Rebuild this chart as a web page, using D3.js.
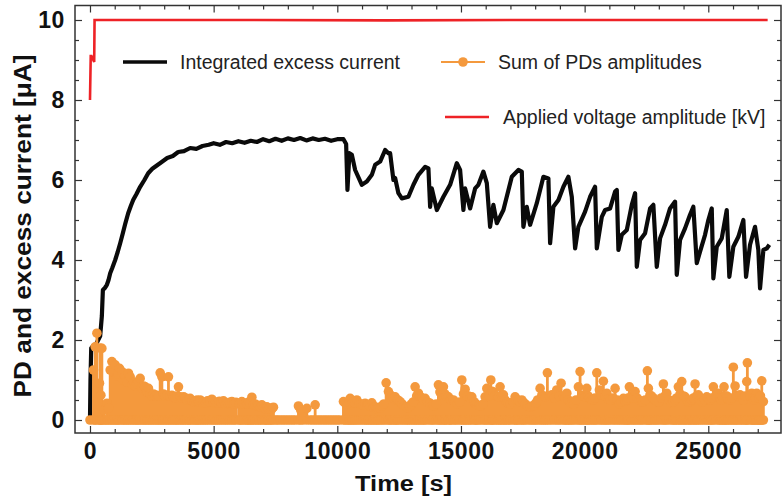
<!DOCTYPE html>
<html>
<head>
<meta charset="utf-8">
<script src="https://cdn.jsdelivr.net/npm/d3@7"></script>
<style>
  body { margin: 0; background: #fff; }
  svg { display: block; font-family: "Liberation Sans", Arial, sans-serif; }
</style>
</head>
<body>
<div id="chart"></div>
<script>
// integrated excess current [uA] vs time [s]
const currentSeries = [[0,0],[20,1.0],[50,1.8],[120,1.85],[250,1.9],[330,2.0],[412,2.1],[480,2.6],[521,3.25],[600,3.3],[683,3.38],[750,3.5],[817,3.67],[900,3.8],[1019,4.0],[1120,4.2],[1221,4.42],[1320,4.65],[1423,4.9],[1544,5.17],[1650,5.35],[1746,5.5],[1880,5.65],[2029,5.83],[2200,6.0],[2353,6.17],[2520,6.28],[2717,6.37],[2900,6.45],[3121,6.55],[3350,6.6],[3566,6.7],[3800,6.72],[4050,6.8],[4300,6.78],[4550,6.85],[4800,6.88],[5000,6.92],[5250,6.88],[5500,6.95],[5750,6.92],[6000,6.97],[6250,6.93],[6500,6.98],[6750,6.95],[7000,7.02],[7250,6.97],[7500,7.03],[7750,6.98],[8000,7.04],[8250,7.0],[8500,7.05],[8750,6.99],[9000,7.04],[9250,7.0],[9500,7.03],[9750,6.98],[10000,7.02],[10248,7.02],[10357,6.9],[10410,5.75],[10490,6.67],[10587,6.63],[10721,6.25],[10992,5.88],[11194,5.96],[11396,6.13],[11530,6.38],[11732,6.46],[11934,6.75],[12067,6.67],[12136,6.67],[12269,6.0],[12338,6.05],[12471,5.67],[12609,5.54],[12875,5.58],[13078,5.88],[13280,6.13],[13551,6.33],[13684,6.29],[13753,5.33],[13821,5.79],[14024,5.25],[14290,5.58],[14561,5.88],[14832,6.42],[14965,6.25],[15099,5.25],[15168,5.79],[15370,5.29],[15572,5.79],[15705,5.88],[15907,6.21],[16045,5.92],[16178,4.83],[16311,5.38],[16449,4.92],[16716,5.25],[17055,6.08],[17322,6.25],[17459,6.21],[17524,4.83],[17661,5.33],[17795,4.88],[18066,5.42],[18333,6.08],[18535,6.04],[18604,4.42],[18737,5.33],[18940,5.5],[19142,5.83],[19344,6.08],[19481,5.58],[19615,4.29],[19748,4.83],[20019,5.21],[20221,5.58],[20423,5.83],[20492,4.29],[20694,5.08],[20828,5.25],[21030,5.29],[21232,5.71],[21301,5.75],[21366,4.25],[21503,4.63],[21705,4.75],[21907,5.38],[22041,5.67],[22109,3.83],[22243,4.5],[22445,4.67],[22647,5.29],[22779,5.38],[22917,3.83],[23050,4.54],[23252,4.88],[23454,5.29],[23657,5.46],[23725,3.63],[23858,4.5],[24060,4.79],[24262,5.13],[24396,5.33],[24534,3.92],[24667,4.21],[24869,4.63],[25003,5.0],[25140,5.29],[25205,3.54],[25342,4.33],[25544,4.54],[25746,5.25],[25851,3.58],[26013,4.33],[26216,4.58],[26418,5.0],[26527,3.58],[26688,4.38],[26890,4.83],[27024,4.25],[27093,3.29],[27227,4.25],[27364,4.29],[27469,4.38]];

// applied voltage amplitude [kV]
const voltageSeries = [[0,8.0],[30,9.1],[60,9.1],[170,8.95],[185,10.0],[6000,10.0],[12000,9.99],[18000,10.0],[27400,10.0]];

// PD amplitude peaks (sum of PDs) [t, amplitude]
const pdPeaks = [[0,0],[141,1.25],[210,1.83],[279,2.17],[384,0.92],[412,1.8],[441,0.62],[481,1.79],[560,0.25],[620,0],[683,0.42],[750,0.3],
[817,1.25],[885,1.46],[950,1.2],[1019,1.38],[1080,1.1],[1140,1.15],[1193,1.29],[1290,1.21],[1350,1.0],[1420,1.1],[1490,0.95],[1556,1.17],[1625,1.08],[1700,0.9],[1770,0.95],[1840,0.85],[1900,0.9],[1961,0.96],[2029,1.04],[2100,0.8],[2170,0.85],[2231,0.83],[2300,0.7],[2365,0.79],[2430,0.65],[2500,0.6],[2570,0.65],[2640,0.6],[2710,0.62],[2780,0.6],[2838,1.18],[2907,1.08],[2970,0.65],[3040,0.6],[3110,0.62],[3173,1.08],[3240,0.6],[3310,0.62],[3380,0.58],[3450,0.55],[3510,0.6],[3578,0.83],[3650,0.58],[3720,0.55],[3790,0.58],[3860,0.55],[3930,0.5],[4000,0.52],[4051,0.54],[4130,0.48],[4200,0.45],[4270,0.48],[4330,0.5],[4390,0.46],[4455,0.5],[4530,0.44],[4600,0.45],[4680,0.42],[4750,0.48],[4840,0.45],[4928,0.52],[5000,0.44],[5080,0.45],[5150,0.42],[5230,0.47],[5310,0.44],[5397,0.48],[5480,0.4],[5560,0.42],[5650,0.44],[5736,0.46],[5820,0.4],[5900,0.44],[6020,0.4],[6080,0.42],[6140,0.46],[6220,0.4],[6300,0.42],[6360,0.4],[6420,0.45],[6480,0.42],[6545,0.57],[6610,0.38],[6680,0.4],[6750,0.35],[6820,0.36],[6890,0.32],[6949,0.38],[7050,0.3],[7100,0.28],[7151,0.33],[7220,0.28],[7280,0.3],[7350,0.27],[7418,0.32],
[7520,0],[7600,0],[7700,0],[7800,0],[7900,0],[8000,0],[8100,0],[8200,0],[8300,0],[8429,0.35],[8520,0.25],[8620,0.2],[8768,0.29],[8900,0],[9000,0],[9104,0.38],[9200,0],[9300,0],[9400,0],[9500,0],[9600,0],[9700,0],[9800,0],[9900,0],[10000,0],[10100,0],
[10248,0.46],[10320,0.42],[10400,0.4],[10460,0.45],[10519,0.54],[10590,0.42],[10650,0.45],[10720,0.42],[10789,0.5],[10870,0.42],[10950,0.4],[11040,0.38],[11125,0.42],[11190,0.36],[11260,0.38],[11330,0.35],[11396,0.43],[11460,0.32],[11530,0.33],[11590,0.28],[11650,0.3],[11720,0.3],[11800,0.35],[11880,0.4],[11974,0.93],[12067,0.71],[12130,0.62],[12200,0.6],[12270,0.55],[12338,0.58],[12400,0.5],[12450,0.5],[12540,0.46],[12620,0.4],[12700,0.35],[12780,0.32],[12850,0.3],[12920,0.35],[13000,0.4],[13070,0.45],[13146,0.83],[13210,0.6],[13280,0.67],[13350,0.58],[13420,0.55],[13490,0.5],[13550,0.54],[13650,0.45],[13753,0.42],[13830,0.38],[13900,0.35],[14000,0.4],[14088,0.88],[14150,0.7],[14220,0.62],[14290,0.83],[14350,0.65],[14400,0.6],[14493,0.58],[14550,0.52],[14600,0.5],[14695,0.5],[14770,0.44],[14850,0.4],[14950,0.45],[15034,1.0],[15100,0.65],[15168,0.77],[15230,0.6],[15300,0.6],[15370,0.55],[15438,0.58],[15540,0.45],[15590,0.4],[15640,0.38],[15720,0.36],[15800,0.35],[15900,0.4],[15976,0.58],[16045,0.79],[16120,0.6],[16206,1.0],[16250,0.72],[16300,0.7],[16380,0.62],[16450,0.6],[16520,0.58],[16582,0.83],[16650,0.6],[16716,0.63],[16780,0.5],[16850,0.45],[16920,0.42],[17000,0.4],[17100,0.45],[17189,0.58],[17240,0.5],[17300,0.5],[17380,0.46],[17459,0.5],[17530,0.44],[17600,0.4],[17700,0.35],[17795,0.33],[17870,0.35],[17950,0.35],[18020,0.42],[18100,0.5],[18199,0.79],[18270,0.62],[18350,0.6],[18420,0.58],[18494,1.18],[18580,0.6],[18672,0.63],[18780,0.55],[18874,0.75],[18960,0.6],[19048,0.92],[19150,0.6],[19210,0.55],[19279,0.67],[19340,0.5],[19400,0.45],[19480,0.42],[19550,0.4],[19650,0.5],[19748,0.83],[19816,1.21],[19880,0.62],[19950,0.6],[20020,0.58],[20087,0.79],[20140,0.6],[20200,0.55],[20280,0.5],[20350,0.5],[20420,0.55],[20492,1.18],[20597,0.75],[20680,0.62],[20758,0.97],[20830,0.6],[20896,0.67],[20970,0.52],[21050,0.5],[21150,0.55],[21232,0.79],[21320,0.5],[21400,0.4],[21480,0.45],[21567,0.54],[21630,0.48],[21700,0.5],[21760,0.55],[21810,0.83],[21900,0.6],[21970,0.55],[22041,0.71],[22120,0.55],[22200,0.5],[22280,0.46],[22350,0.45],[22450,0.5],[22537,1.23],[22577,0.79],[22640,0.62],[22700,0.6],[22780,0.55],[22850,0.5],[22920,0.46],[23000,0.45],[23100,0.55],[23184,0.9],[23250,0.6],[23321,0.67],[23420,0.5],[23523,0.42],[23590,0.45],[23650,0.5],[23720,0.55],[23790,0.83],[23860,0.65],[23927,0.96],[24000,0.6],[24060,0.58],[24130,0.5],[24200,0.45],[24260,0.46],[24330,0.5],[24400,0.55],[24465,0.9],[24530,0.6],[24598,0.63],[24680,0.5],[24760,0.45],[24850,0.5],[24938,0.58],[25010,0.52],[25080,0.5],[25140,0.55],[25205,0.83],[25300,0.6],[25407,0.67],[25460,0.55],[25520,0.5],[25580,0.55],[25638,0.83],[25690,0.6],[25747,0.6],[25810,0.52],[25880,0.5],[25950,0.55],[26013,1.32],[26083,0.85],[26140,0.62],[26200,0.6],[26285,0.63],[26350,0.52],[26420,0.5],[26490,0.6],[26555,0.96],[26580,1.43],[26680,0.6],[26758,0.67],[26800,0.55],[26850,0.5],[26910,0.55],[26959,0.67],[27010,0.55],[27060,0.55],[27110,0.6],[27162,0.98],[27227,0.46]];

const xTicks = [0, 5000, 10000, 15000, 20000, 25000];
const yTicks = [0, 2, 4, 6, 8, 10];
const legendLabels = ["Integrated excess current", "Sum of PDs amplitudes", "Applied voltage amplitude [kV]"];

const width = 783, height = 501;
const plot = {left: 75, right: 781, top: 5.5, bottom: 433};

const colors = {current: "#0a0a0a", pd: "#f4993d", voltage: "#ee2226", axis: "#333"};

const x = d3.scaleLinear().domain([-606, 27940]).range([plot.left, plot.right]);
const y = d3.scaleLinear().domain([-0.325, 10.3625]).range([plot.bottom, plot.top]);

const svg = d3.select("#chart")
              .append("svg")
              .attr("width", width)
              .attr("height", height);

// series
const line = d3.line()
               .x(d => x(d[0]))
               .y(d => y(d[1]));

svg.append("path")
   .datum(currentSeries)
   .attr("fill", "none")
   .attr("stroke", colors.current)
   .attr("stroke-width", 4.2)
   .attr("stroke-linejoin", "round")
   .attr("d", line);

// PD stems: each peak rises from and falls back to the zero level
const pdPath = [];
pdPeaks.forEach(d => {
    pdPath.push([d[0], 0]);
    pdPath.push(d);
    pdPath.push([d[0], 0]);
});

const pdGroup = svg.append("g");
pdGroup.append("path")
       .datum(pdPath)
       .attr("fill", "none")
       .attr("stroke", colors.pd)
       .attr("stroke-width", 2.8)
       .attr("d", line);

pdGroup.selectAll("circle.zero")
       .data(pdPeaks)
       .join("circle")
       .attr("class", "zero")
       .attr("cx", d => x(d[0]))
       .attr("cy", y(0))
       .attr("r", 4.8)
       .attr("fill", colors.pd);

pdGroup.selectAll("circle.peak")
       .data(pdPeaks.filter(d => d[1] > 0))
       .join("circle")
       .attr("class", "peak")
       .attr("cx", d => x(d[0]))
       .attr("cy", d => y(d[1]))
       .attr("r", 4.8)
       .attr("fill", colors.pd);

svg.append("path")
   .datum(voltageSeries)
   .attr("fill", "none")
   .attr("stroke", colors.voltage)
   .attr("stroke-width", 2.6)
   .attr("d", line);

// axes, ticks pointing inward on all four sides
const minorX = d3.range(0, 28000, 1000).filter(v => !xTicks.includes(v));
const minorY = d3.range(0, 10.5, 0.5).filter(v => !yTicks.includes(v));

function styleAxis(g) {
    g.select(".domain").remove();
    g.selectAll("line").attr("stroke", colors.axis).attr("stroke-width", 1.2);
    g.attr("font-family", "'Liberation Sans', Arial, sans-serif")
     .attr("font-size", 23)
     .attr("font-weight", "bold");
    g.selectAll("text").attr("fill", "#111").attr("letter-spacing", 0.6);
}

svg.append("g")
   .attr("transform", `translate(0,${plot.bottom})`)
   .call(d3.axisBottom(x).tickValues(xTicks).tickSize(-7).tickPadding(10).tickFormat(d3.format("d")))
   .call(styleAxis);
svg.append("g")
   .attr("transform", `translate(0,${plot.bottom})`)
   .call(d3.axisBottom(x).tickValues(minorX).tickSize(-4).tickFormat(""))
   .call(styleAxis);
svg.append("g")
   .attr("transform", `translate(0,${plot.top})`)
   .call(d3.axisTop(x).tickValues(xTicks).tickSize(-7).tickFormat(""))
   .call(styleAxis);
svg.append("g")
   .attr("transform", `translate(0,${plot.top})`)
   .call(d3.axisTop(x).tickValues(minorX).tickSize(-4).tickFormat(""))
   .call(styleAxis);

svg.append("g")
   .attr("transform", `translate(${plot.left},0)`)
   .call(d3.axisLeft(y).tickValues(yTicks).tickSize(-7).tickPadding(10).tickFormat(d3.format("d")))
   .call(styleAxis);
svg.append("g")
   .attr("transform", `translate(${plot.left},0)`)
   .call(d3.axisLeft(y).tickValues(minorY).tickSize(-4).tickFormat(""))
   .call(styleAxis);
svg.append("g")
   .attr("transform", `translate(${plot.right},0)`)
   .call(d3.axisRight(y).tickValues(yTicks).tickSize(-7).tickFormat(""))
   .call(styleAxis);
svg.append("g")
   .attr("transform", `translate(${plot.right},0)`)
   .call(d3.axisRight(y).tickValues(minorY).tickSize(-4).tickFormat(""))
   .call(styleAxis);

// frame
svg.append("rect")
   .attr("x", plot.left)
   .attr("y", plot.top)
   .attr("width", plot.right - plot.left)
   .attr("height", plot.bottom - plot.top)
   .attr("fill", "none")
   .attr("stroke", colors.axis)
   .attr("stroke-width", 1.5);

// axis titles
svg.append("text")
   .attr("x", 403.5)
   .attr("y", 490.5)
   .attr("text-anchor", "middle")
   .attr("font-size", 22)
   .attr("font-weight", "bold")
   .attr("fill", "#111")
   .attr("textLength", 97)
   .attr("lengthAdjust", "spacingAndGlyphs")
   .text("Time [s]");

svg.append("text")
   .attr("transform", "translate(31,226) rotate(-90)")
   .attr("text-anchor", "middle")
   .attr("font-size", 23.5)
   .attr("font-weight", "bold")
   .attr("fill", "#111")
   .attr("textLength", 343)
   .attr("lengthAdjust", "spacingAndGlyphs")
   .text("PD and excess current [\u03bcA]");

// legend
const legendItems = [
    {label: legendLabels[0], color: colors.current, x1: 123, x2: 167, y: 62, tx: 180, width: 3.6, marker: false},
    {label: legendLabels[1], color: colors.pd, x1: 441, x2: 485, y: 62, tx: 498, width: 2.2, marker: true},
    {label: legendLabels[2], color: colors.voltage, x1: 445, x2: 489, y: 117, tx: 503, width: 2.6, marker: false}
];

const legend = svg.append("g");
legendItems.forEach(d => {
    legend.append("line")
          .attr("x1", d.x1).attr("x2", d.x2)
          .attr("y1", d.y).attr("y2", d.y)
          .attr("stroke", d.color)
          .attr("stroke-width", d.width);
    if (d.marker) {
        legend.append("circle")
              .attr("cx", (d.x1 + d.x2) / 2)
              .attr("cy", d.y)
              .attr("r", 4.8)
              .attr("fill", d.color);
    }
    legend.append("text")
          .attr("x", d.tx)
          .attr("y", d.y + 7)
          .attr("font-size", 19.5)
          .attr("fill", "#222")
          .text(d.label);
});
</script>
</body>
</html>
